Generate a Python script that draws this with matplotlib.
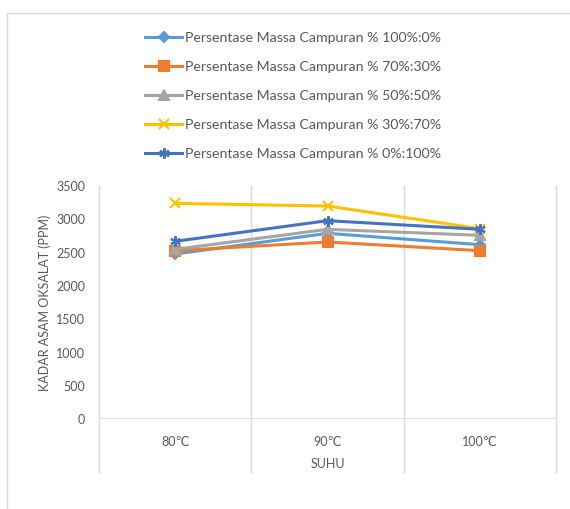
import matplotlib
matplotlib.use("Agg")
import matplotlib.pyplot as plt
from matplotlib.patches import Rectangle

plt.rcParams["font.family"] = ["Lato", "DejaVu Sans"]

categories = ["80℃", "90℃", "100℃"]
series_labels = [
    "Persentase Massa Campuran % 100%:0%",
    "Persentase Massa Campuran % 70%:30%",
    "Persentase Massa Campuran % 50%:50%",
    "Persentase Massa Campuran % 30%:70%",
    "Persentase Massa Campuran % 0%:100%",
]
mix_100_0 = [2480, 2790, 2620]
mix_70_30 = [2530, 2660, 2530]
mix_50_50 = [2550, 2850, 2760]
mix_30_70 = [3240, 3200, 2860]
mix_0_100 = [2670, 2980, 2850]
y_ticks = [0, 500, 1000, 1500, 2000, 2500, 3000, 3500]

series = [mix_100_0, mix_70_30, mix_50_50, mix_30_70, mix_0_100]
colors = ["#5B9BD5", "#ED7D31", "#A5A5A5", "#FFC000", "#4472C4"]
markers = ["D", "s", "^", "x", (6, 2, 0)]
msizes = [5, 7.5, 7, 6.5, 7.5]
GRID = "#D9D9D9"
TEXT = "#595959"

fig = plt.figure(figsize=(5.70, 5.09), dpi=100)
W, H = 570, 509
ax = fig.add_axes([99 / W, 1 - 419.3 / H, (556 - 99) / W, (419.3 - 186) / H])

# chart-area border (right and bottom fall outside the image)
fig.patches.append(Rectangle((7 / W, -0.1), 1.2, 1 - 13 / H + 0.1, transform=fig.transFigure,
                             fill=False, edgecolor=GRID, linewidth=1.0))

x = list(range(len(categories)))
handles = []
for vals, lab, col, mk, ms in zip(series, series_labels, colors, markers, msizes):
    (h,) = ax.plot(x, vals, color=col, linewidth=2.2, marker=mk, markersize=ms,
                   markerfacecolor=col, markeredgecolor=col, markeredgewidth=1.5,
                   label=lab, zorder=3, clip_on=False)
    handles.append(h)

ax.set_xlim(-0.5, len(categories) - 0.5)
ax.set_ylim(0, 3500)
ax.set_yticks(y_ticks)
ax.set_xticks(x)
ax.set_xticklabels(categories)
for s in ax.spines.values():
    s.set_visible(False)
ax.tick_params(axis="both", length=0, colors=TEXT, labelsize=9)
ax.tick_params(axis="y", pad=10)
ax.tick_params(axis="x", pad=12)

# category boundaries, extended down through the label band
ext = -(472 - 419.3) / (419.3 - 186)
for b in [-0.5, 0.5, 1.5, 2.5]:
    ax.axvline(b, ymin=ext, ymax=1, color=GRID, linewidth=1.0, clip_on=False, zorder=1)
ax.axhline(0, color=GRID, linewidth=1.2, zorder=1)

ax.set_xlabel("SUHU", color=TEXT, fontsize=9, labelpad=7)
ax.set_ylabel("KADAR ASAM OKSALAT (PPM)", color=TEXT, fontsize=9, labelpad=4)

fig.legend(handles=handles, loc="upper left", bbox_to_anchor=(138 / W, 1 - 25 / H),
           frameon=False, fontsize=10.2, labelcolor=TEXT, handlelength=2.6,
           handletextpad=0.2, labelspacing=1.2, borderpad=0)

fig.savefig("out.png", dpi=100)
